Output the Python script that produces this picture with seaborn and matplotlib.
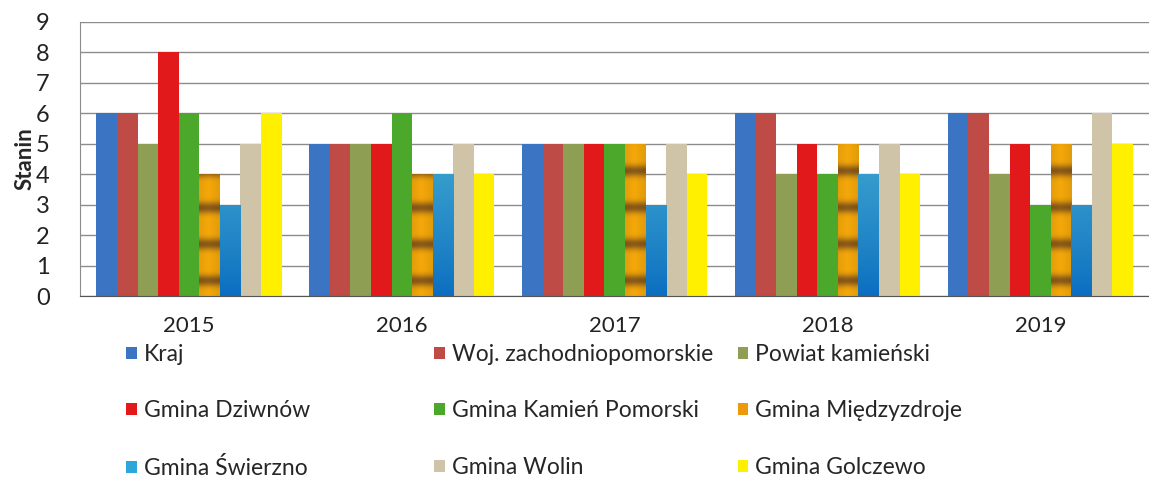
import matplotlib
matplotlib.use("Agg")
import matplotlib.pyplot as plt
from matplotlib.patches import Patch
from matplotlib.colors import to_rgb
import numpy as np
import pandas as pd
import seaborn as sns

# chart data
years = ["2015", "2016", "2017", "2018", "2019"]
series = [
    "Kraj", "Woj. zachodniopomorskie", "Powiat kamieński",
    "Gmina Dziwnów", "Gmina Kamień Pomorski", "Gmina Międzyzdroje",
    "Gmina Świerzno", "Gmina Wolin", "Gmina Golczewo",
]
kraj = [6, 5, 5, 6, 6]
woj = [6, 5, 5, 6, 6]
powiat = [5, 5, 5, 4, 4]
dziwnow = [8, 5, 5, 5, 5]
kamien = [6, 6, 5, 4, 3]
miedzyzdroje = [4, 4, 5, 5, 5]
swierzno = [3, 4, 3, 4, 3]
wolin = [5, 5, 5, 5, 6]
golczewo = [6, 4, 4, 4, 5]

colors = ["#3B74C2", "#BE4B45", "#8E9E52", "#E2191B", "#4BA82A",
          "#EC9A0C", "#2EA6DA", "#CFC4A8", "#FFF000"]

values = [kraj, woj, powiat, dziwnow, kamien, miedzyzdroje, swierzno, wolin, golczewo]
rows = []
for name, vals in zip(series, values):
    for y, v in zip(years, vals):
        rows.append({"Rok": y, "Seria": name, "Stanin": v})
df = pd.DataFrame(rows)

sns.set_style("white")
plt.rcParams["font.family"] = ["Lato", "DejaVu Sans"]

fig = plt.figure(figsize=(11.49, 4.97), dpi=100)
ax = fig.add_axes([0.070, 0.404, 0.930, 0.552])

sns.barplot(data=df, x="Rok", y="Stanin", hue="Seria", hue_order=series,
            palette=colors, width=0.87, gap=0, saturation=1, ax=ax, legend=False,
            linewidth=0, errorbar=None)


# gradient fills for two series, clipped to their bars
def gradient_bars(container, kind):
    for bar in container:
        x, w, h = bar.get_x(), bar.get_width(), bar.get_height()
        ny, nx = 200, 30
        yy = np.linspace(0, h, ny)[:, None]
        xx = np.linspace(0, 1, nx)[None, :]
        if kind == "orange":
            band = (0.5 + 0.5 * np.cos(2 * np.pi * (yy - 0.5) / 1.2)) ** 4
            side = 1 - 0.35 * np.abs(xx - 0.45) * 2
            light = np.array(to_rgb("#F5A80A"))
            dark = np.array(to_rgb("#8A5A18"))
            t = band * np.ones_like(xx)
            img = light * (1 - t[..., None]) + dark * t[..., None]
            img = img * (0.8 + 0.2 * side[..., None])
        else:
            t = (yy / 9.0) ** 0.8 * np.ones_like(xx)
            top = np.array(to_rgb("#5CC8D8"))
            bottom = np.array(to_rgb("#0A6CC0"))
            img = bottom * (1 - t[..., None]) + top * t[..., None]
        im = ax.imshow(np.clip(img, 0, 1), extent=[x, x + w, 0, h], origin="lower",
                       aspect="auto", zorder=bar.get_zorder() + 0.1)
        im.set_clip_path(bar)


gradient_bars(ax.containers[5], "orange")
gradient_bars(ax.containers[6], "blue")

ax.set_xlim(-0.51, 4.51)
ax.set_ylim(0, 9)
ax.set_yticks(range(0, 10))
ax.set_axisbelow(True)
ax.yaxis.grid(True, color="#8C8C8C", linewidth=1.0)
ax.xaxis.grid(False)
for side in ["top", "right"]:
    ax.spines[side].set_visible(False)
ax.spines["left"].set_color("#8C8C8C")
ax.spines["bottom"].set_color("#555555")
ax.tick_params(axis="both", length=0, colors="#222222")
ax.tick_params(axis="y", labelsize=17, pad=22)
ax.tick_params(axis="x", labelsize=16, pad=14)
ax.set_xlabel("")
ax.set_ylabel("Stanin", fontsize=16, fontweight="bold", labelpad=0)

# legend in three fixed columns, row-wise order
handles = [Patch(facecolor=c, edgecolor="none") for c in colors]
col_x = [0.110, 0.378, 0.642]
for i, cx in enumerate(col_x):
    idx = [i, i + 3, i + 6]
    fig.legend([handles[j] for j in idx], [series[j] for j in idx],
               loc="upper left", bbox_to_anchor=(cx, 0.308), frameon=False,
               fontsize=16.5, borderpad=0, borderaxespad=0, handlelength=0.45,
               handleheight=0.45, handletextpad=0.3, labelspacing=1.55)

fig.savefig("out.png", dpi=100)
